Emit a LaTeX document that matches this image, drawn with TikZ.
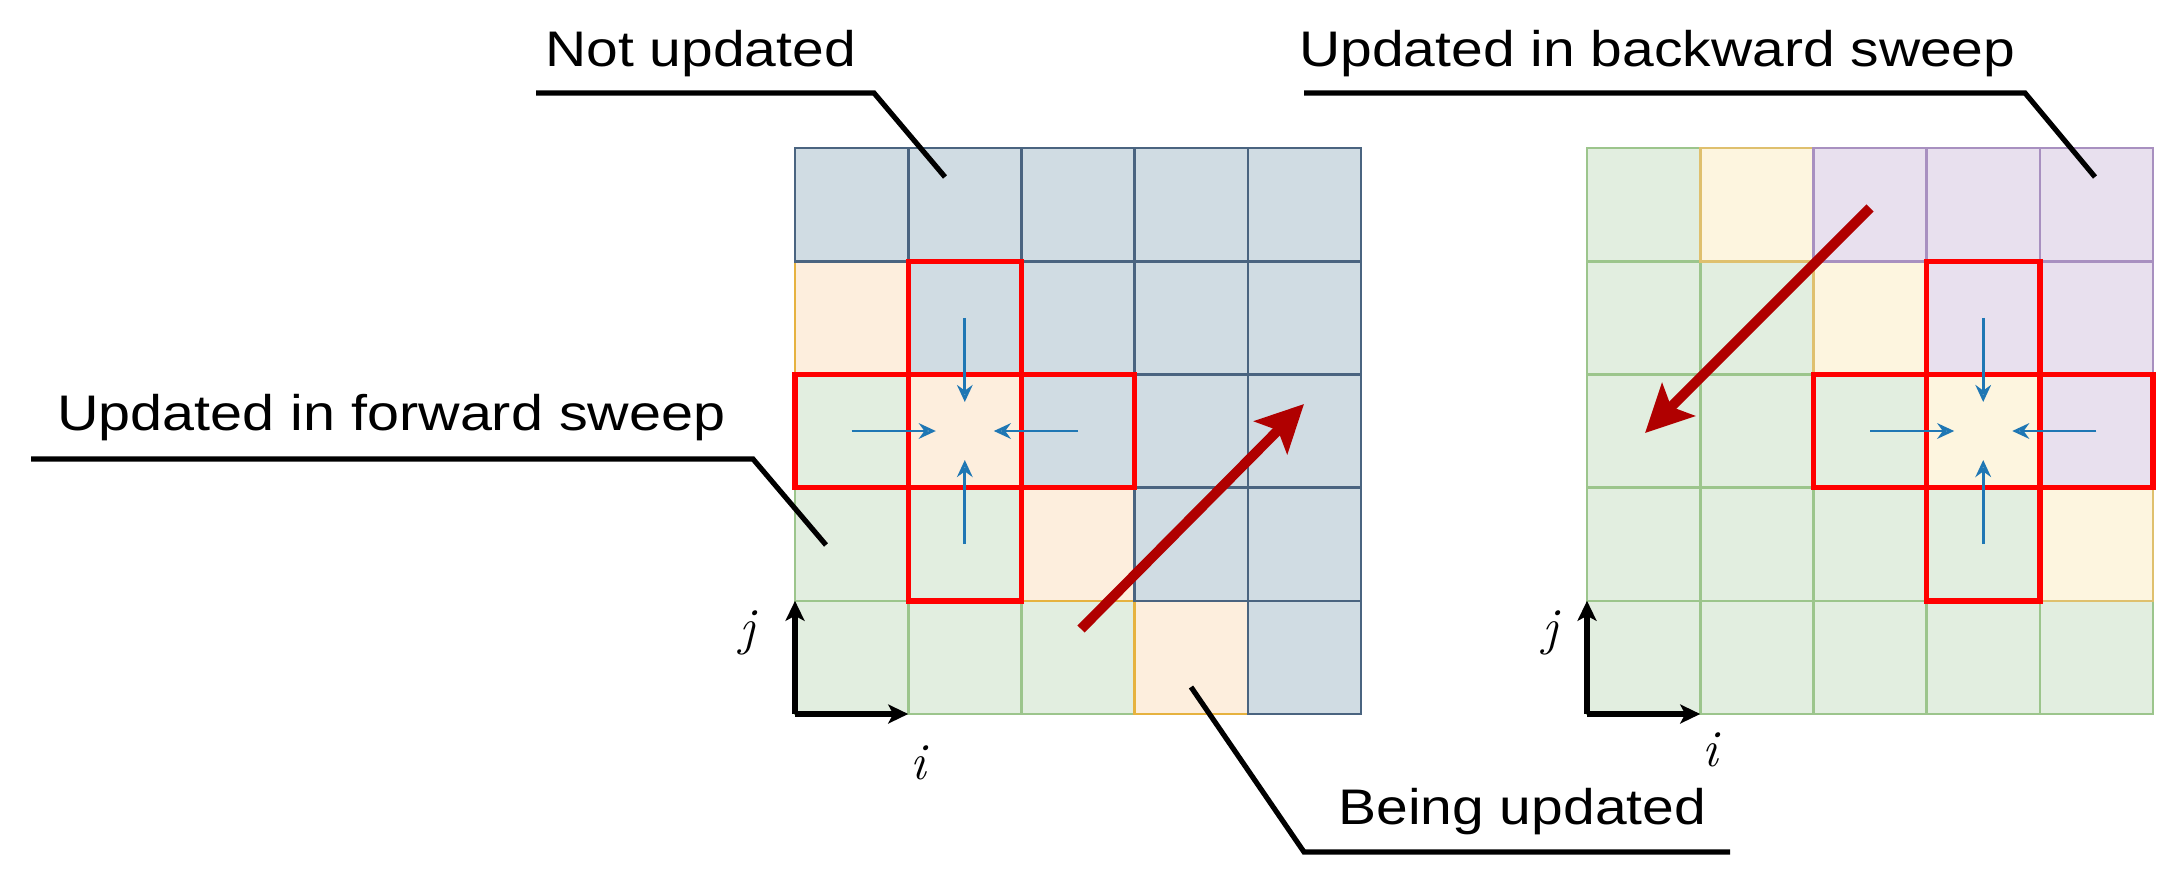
\documentclass[tikz,border=0pt]{standalone}
\usepackage{fontspec}
\usepackage{graphicx}
\newfontfamily\labelfont{Liberation Sans}
\usetikzlibrary{arrows.meta,calc}
\definecolor{gfill}{HTML}{E2EEE0}
\definecolor{gline}{HTML}{9CC58C}
\definecolor{ofill}{HTML}{FDEEDD}
\definecolor{oline}{HTML}{E6B23F}
\definecolor{bfill}{HTML}{D0DCE3}
\definecolor{bline}{HTML}{4A6480}
\definecolor{yfill}{HTML}{FDF5DF}
\definecolor{yline}{HTML}{DFC06E}
\definecolor{pfill}{HTML}{E8E0EE}
\definecolor{pline}{HTML}{A890C0}
\definecolor{boxred}{HTML}{FF0000}
\definecolor{sweepred}{HTML}{B00000}
\definecolor{nbblue}{HTML}{1F77B4}
\begin{document}
\begin{tikzpicture}[x=0.5pt,y=-0.5pt,
  cell/.style={minimum size=56.6pt,inner sep=0pt,outer sep=0pt,line width=1.3pt,draw},
  gcell/.style={cell,fill=gfill,draw=gline},
  ocell/.style={cell,fill=ofill,draw=oline},
  bcell/.style={cell,fill=bfill,draw=bline},
  ycell/.style={cell,fill=yfill,draw=yline},
  pcell/.style={cell,fill=pfill,draw=pline},
  redbox/.style={draw=boxred,line width=2.7pt},
  nbarrow/.style={draw=nbblue,line width=1.4pt,shorten >=14.5pt,
    -{Stealth[open,length=8.5pt,width=7.8pt,inset=2.8pt]}},
  sweeparrow/.style={draw=sweepred,line width=5pt,
    -{Stealth[length=23.5pt,width=23pt,inset=5pt]}},
  axisarrow/.style={draw=black,line width=2.7pt,
    -{Stealth[length=10pt,width=9.5pt,inset=2.5pt]}},
  callout/.style={draw=black,line width=2.6pt},
  lbl/.style={anchor=base west,inner sep=0pt,font=\labelfont\fontsize{25}{30}\selectfont},
  axlbl/.style={inner sep=0pt,font=\rmfamily\itshape\fontsize{26}{30}\selectfont}]
\useasboundingbox (0,0) rectangle (2183,889);

% ---- left grid (forward sweep): wavefront i+j=3
\foreach \k in {0,...,4}{\foreach \r in {0,...,4}{
  \pgfmathtruncatemacro{\s}{\k+4-\r}
  \ifnum\s<3 \node[gcell] (L\k\r) at (795+113.2*\k+56.6,148+113.2*\r+56.6) {};\fi
}}
\foreach \k in {0,...,4}{\foreach \r in {0,...,4}{
  \pgfmathtruncatemacro{\s}{\k+4-\r}
  \ifnum\s=3 \node[ocell] (L\k\r) at (795+113.2*\k+56.6,148+113.2*\r+56.6) {};\fi
}}
\foreach \k in {0,...,4}{\foreach \r in {0,...,4}{
  \pgfmathtruncatemacro{\s}{\k+4-\r}
  \ifnum\s>3 \node[bcell] (L\k\r) at (795+113.2*\k+56.6,148+113.2*\r+56.6) {};\fi
}}

% ---- right grid (backward sweep): wavefront i+j=5
\foreach \k in {0,...,4}{\foreach \r in {0,...,4}{
  \pgfmathtruncatemacro{\s}{\k+4-\r}
  \ifnum\s<5 \node[gcell] (R\k\r) at (1587+113.2*\k+56.6,148+113.2*\r+56.6) {};\fi
}}
\foreach \k in {0,...,4}{\foreach \r in {0,...,4}{
  \pgfmathtruncatemacro{\s}{\k+4-\r}
  \ifnum\s=5 \node[ycell] (R\k\r) at (1587+113.2*\k+56.6,148+113.2*\r+56.6) {};\fi
}}
\foreach \k in {0,...,4}{\foreach \r in {0,...,4}{
  \pgfmathtruncatemacro{\s}{\k+4-\r}
  \ifnum\s>5 \node[pcell] (R\k\r) at (1587+113.2*\k+56.6,148+113.2*\r+56.6) {};\fi
}}

% ---- red stencils
\draw[redbox] (L11.north west) rectangle (L13.south east);
\draw[redbox] (L02.north west) rectangle (L22.south east);
\draw[redbox] (R31.north west) rectangle (R33.south east);
\draw[redbox] (R22.north west) rectangle (R42.south east);

% ---- neighbour arrows
\draw[nbarrow] (L11.center) -- (L12.center);
\draw[nbarrow] (L02.center) -- (L12.center);
\draw[nbarrow] (L22.center) -- (L12.center);
\draw[nbarrow] (L13.center) -- (L12.center);
\draw[nbarrow] (R31.center) -- (R32.center);
\draw[nbarrow] (R22.center) -- (R32.center);
\draw[nbarrow] (R42.center) -- (R32.center);
\draw[nbarrow] (R33.center) -- (R32.center);

% ---- sweep arrows
\coordinate (fwdA) at (1081,629);
\coordinate (fwdB) at (1304,404);
\draw[sweeparrow] (fwdA) -- (fwdB);
\coordinate (bwdA) at (1870,208);
\coordinate (bwdB) at (1645,433);
\draw[sweeparrow] (bwdA) -- (bwdB);

% ---- axes
\draw[axisarrow] (L04.south west) -- (L04.north west);
\draw[axisarrow] (L04.south west) -- (L04.south east);
\draw[axisarrow] (R04.south west) -- (R04.north west);
\draw[axisarrow] (R04.south west) -- (R04.south east);
\node[axlbl] (Lj) at (747,633) {j};
\node[axlbl] (Li) at (918,763) {i};
\node[axlbl] (Rj) at (1550,633) {j};
\node[axlbl] (Ri) at (1710,750) {i};

% ---- callouts
\node[lbl] (tNot) at (545,66) {\scalebox{1.14}[1]{Not updated}};
\node[lbl] (tBwd) at (1299,66) {\scalebox{1.14}[1]{Updated in backward sweep}};
\node[lbl] (tFwd) at (57,430) {\scalebox{1.15}[1]{Updated in forward sweep}};
\node[lbl] (tBeing) at (1338,824) {\scalebox{1.14}[1]{Being updated}};

\coordinate (cn1) at (536,93);
\coordinate (cn2) at (874,93);
\coordinate (cn3) at (945,177);
\draw[callout] (cn1) -- (cn2) -- (cn3);
\coordinate (cb1) at (1304,93);
\coordinate (cb2) at (2025,93);
\coordinate (cb3) at (2095,177);
\draw[callout] (cb1) -- (cb2) -- (cb3);
\coordinate (cf1) at (31,459);
\coordinate (cf2) at (753,459);
\coordinate (cf3) at (826,545);
\draw[callout] (cf1) -- (cf2) -- (cf3);
\coordinate (cu1) at (1191,687);
\coordinate (cu2) at (1304,852);
\coordinate (cu3) at (1730,852);
\draw[callout] (cu1) -- (cu2) -- (cu3);
\end{tikzpicture}
\end{document}
